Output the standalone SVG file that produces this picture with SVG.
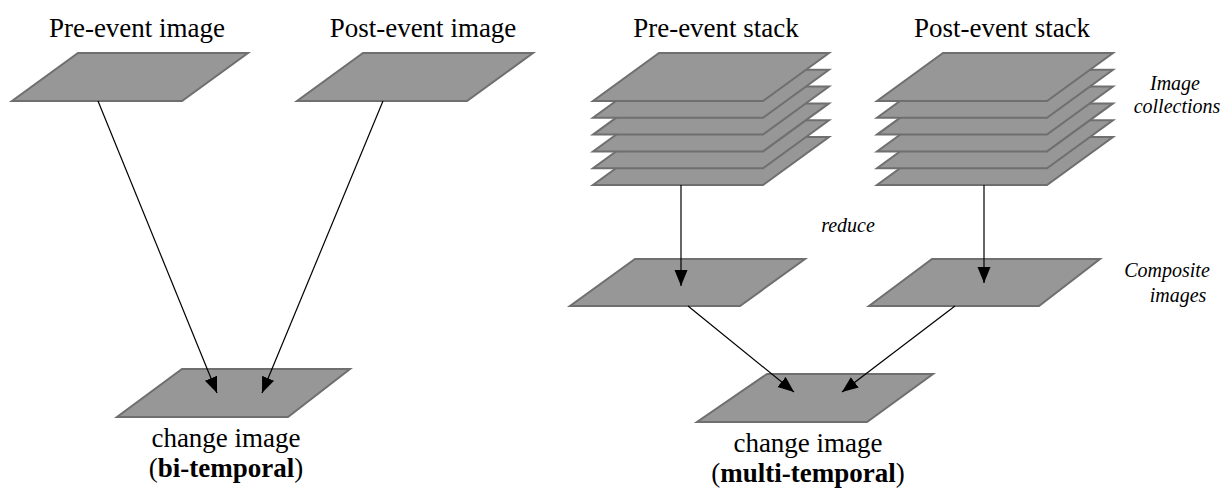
<svg xmlns="http://www.w3.org/2000/svg" width="1223" height="490" viewBox="0 0 1223 490">
<style>
.pg{fill:#979797;stroke:#6f6f6f;stroke-width:2;stroke-linejoin:miter}
.t{font-family:"Liberation Serif","Times New Roman",serif;font-size:27px;fill:#000;text-anchor:middle}
.i{font-family:"Liberation Serif","Times New Roman",serif;font-size:20px;font-style:italic;fill:#000;text-anchor:middle}
.c{stroke:#000;stroke-width:1.2;fill:none;marker-end:url(#ah)}
</style>
<defs>
<marker id="ah" markerUnits="userSpaceOnUse" markerWidth="16" markerHeight="14" refX="16" refY="6.5" orient="auto">
<path d="M0,0 L16,6.5 L0,13 z" fill="#000"/>
</marker>
<polygon id="pl" points="66,0 236,0 170,48 0,48"/>
</defs>
<g id="pre-image">
<use href="#pl" class="pg" x="12" y="53"/>
<text class="t" x="137" y="37">Pre-event image</text>
</g>
<g id="post-image">
<use href="#pl" class="pg" x="297" y="53"/>
<text class="t" x="423" y="37">Post-event image</text>
</g>
<g id="pre-stack">
<use href="#pl" class="pg" x="593" y="137"/>
<use href="#pl" class="pg" x="593" y="120.2"/>
<use href="#pl" class="pg" x="593" y="103.4"/>
<use href="#pl" class="pg" x="593" y="86.6"/>
<use href="#pl" class="pg" x="593" y="69.8"/>
<use href="#pl" class="pg" x="593" y="53"/>
<text class="t" x="716" y="37">Pre-event stack</text>
</g>
<g id="post-stack">
<use href="#pl" class="pg" x="877" y="137"/>
<use href="#pl" class="pg" x="877" y="120.2"/>
<use href="#pl" class="pg" x="877" y="103.4"/>
<use href="#pl" class="pg" x="877" y="86.6"/>
<use href="#pl" class="pg" x="877" y="69.8"/>
<use href="#pl" class="pg" x="877" y="53"/>
<text class="t" x="1002" y="37">Post-event stack</text>
</g>
<g id="label-collections">
<text class="i" x="1175" y="90">Image</text>
<text class="i" x="1177" y="113">collections</text>
</g>
<g id="pre-composite">
<polygon class="pg" points="635,259 805,259 740,306 570,306"/>
</g>
<g id="post-composite">
<polygon class="pg" points="932,259 1100,259 1039,306 869,306"/>
</g>
<g id="label-reduce">
<text class="i" x="848" y="232">reduce</text>
</g>
<g id="label-composite">
<text class="i" x="1167" y="277">Composite</text>
<text class="i" x="1178" y="302">images</text>
</g>
<g id="change-bi">
<polygon class="pg" points="182,369 350,369 288,417 117,417"/>
<text class="t" x="226" y="447">change image</text>
<text class="t" x="226" y="477">(<tspan font-weight="bold">bi-temporal</tspan>)</text>
</g>
<g id="change-multi">
<polygon class="pg" points="767,374 933,374 867,422 697,422"/>
<text class="t" x="808" y="452">change image</text>
<text class="t" x="808" y="482">(<tspan font-weight="bold">multi-temporal</tspan>)</text>
</g>
<g id="connectors">
<line class="c" x1="98" y1="101" x2="217" y2="393"/>
<line class="c" x1="383" y1="101" x2="262" y2="393"/>
<line class="c" x1="681" y1="185" x2="681" y2="286"/>
<line class="c" x1="984" y1="185" x2="984" y2="283"/>
<line class="c" x1="688" y1="306" x2="794" y2="392"/>
<line class="c" x1="955" y1="306" x2="842" y2="392"/>
</g>
</svg>
